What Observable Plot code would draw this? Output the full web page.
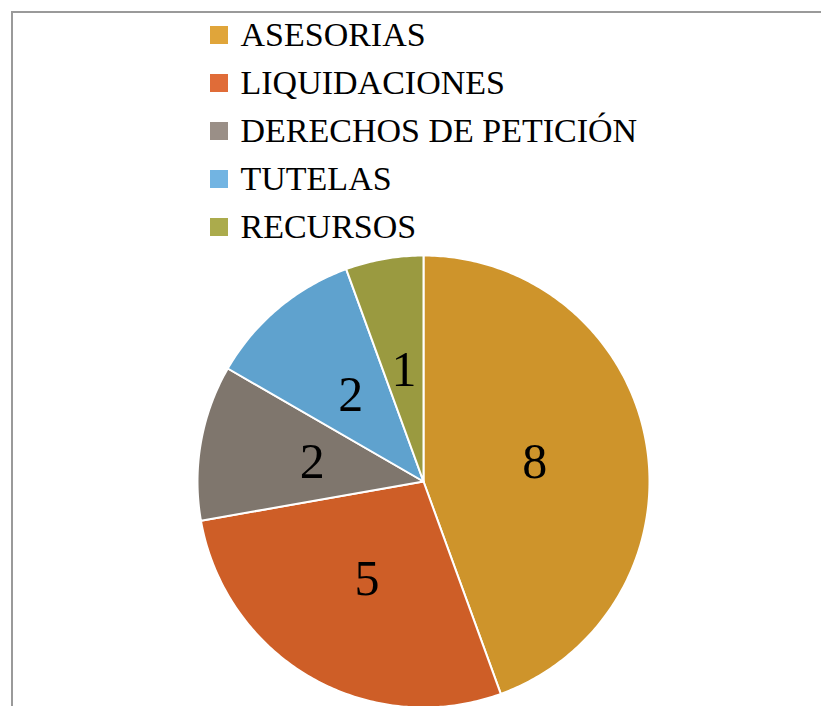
<!DOCTYPE html>
<html><head><meta charset="utf-8">
<script src="https://cdn.jsdelivr.net/npm/d3@7"></script>
<script src="https://cdn.jsdelivr.net/npm/@observablehq/plot@0.6"></script>
<style>
html,body{margin:0;padding:0;background:#fff;overflow:hidden}
#wrap{position:relative;width:821px;height:706px;overflow:hidden}
#frame{position:absolute;left:11px;top:11px;width:900px;height:900px;border:2px solid #9a9a9a;box-sizing:border-box}
#chart{position:absolute;left:0;top:0}
</style></head>
<body><div id="wrap"><div id="frame"></div><div id="chart"></div></div>
<script>
const categories = ["ASESORIAS", "LIQUIDACIONES", "DERECHOS DE PETICIÓN", "TUTELAS", "RECURSOS"];
const values = [8, 5, 2, 2, 1];
const pieColors = ["#CE942B", "#CE5E27", "#7F766D", "#5FA2CE", "#9A9A40"];
const legendColors = ["#E0A53A", "#E06C38", "#9A8F87", "#72B4E2", "#ABAB4C"];

const W = 821, H = 706, cx = 423, cy = 481, R = 226;
const arcs = d3.pie().sort(null)(values);

const slicePts = [];
arcs.forEach((a, i) => {
  const cat = categories[i];
  const n = Math.max(4, Math.ceil((a.endAngle - a.startAngle) * 80));
  slicePts.push({cat, x: cx, y: cy});
  for (let k = 0; k <= n; k++) {
    const ang = a.startAngle + (a.endAngle - a.startAngle) * k / n;
    slicePts.push({cat, x: cx + R * Math.sin(ang), y: cy - R * Math.cos(ang)});
  }
});

const labels = arcs.map((a, i) => {
  const m = (a.startAngle + a.endAngle) / 2;
  return {text: String(values[i]), x: cx + R * 0.5 * Math.sin(m), y: cy - R * 0.5 * Math.cos(m)};
});

const legendRows = categories.map((c, i) => ({c, y: 35 + 48 * i}));

const chart = Plot.plot({
  width: W, height: H,
  margin: 0,
  x: {domain: [0, W], range: [0, W], axis: null},
  y: {domain: [0, H], range: [0, H], axis: null},
  color: {domain: categories, range: pieColors},
  style: {background: "transparent"},
  marks: [
    Plot.line(slicePts, {x: "x", y: "y", z: "cat", fill: "cat", stroke: "white", strokeWidth: 2, curve: "linear-closed"}),
    Plot.text(labels, {x: "x", y: "y", text: "text", fontSize: 50, fontFamily: "Liberation Serif", fill: "#000", lineAnchor: "middle"}),
    ...legendRows.map((r, i) => Plot.rect([r], {x1: 210, x2: 228, y1: d => d.y - 9, y2: d => d.y + 9, fill: legendColors[i]})),
    Plot.text(legendRows, {x: 240, y: "y", text: "c", textAnchor: "start", fontSize: 34, fontFamily: "Liberation Serif", fill: "#000", lineAnchor: "middle"})
  ]
});
document.getElementById("chart").appendChild(chart);
</script>
</body></html>
